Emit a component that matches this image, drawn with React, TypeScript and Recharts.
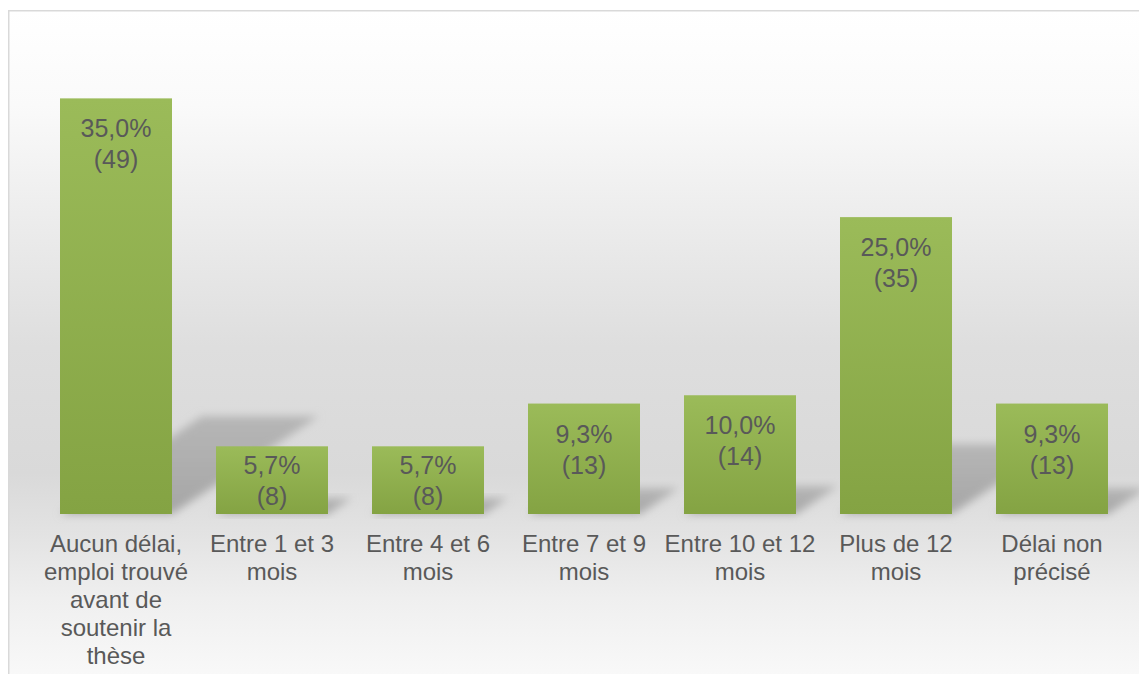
import { Bar, BarChart, LabelList, XAxis, YAxis } from "recharts";

const categories = [
  "Aucun délai,\nemploi trouvé\navant de\nsoutenir la\nthèse",
  "Entre 1 et 3\nmois",
  "Entre 4 et 6\nmois",
  "Entre 7 et 9\nmois",
  "Entre 10 et 12\nmois",
  "Plus de 12\nmois",
  "Délai non\nprécisé",
];
const percents = [35.0, 5.7, 5.7, 9.3, 10.0, 25.0, 9.3];
const counts = [49, 8, 8, 13, 14, 35, 13];

const data = categories.map((name, i) => ({
  name,
  pct: percents[i],
  count: counts[i],
}));

const FONT = "'Liberation Sans', Arial, sans-serif";
const TEXT = "#595959";

const CategoryTick = (props: any) => {
  const { x, y, payload } = props;
  const lines = String(payload.value).split("\n");
  return (
    <g>
      {lines.map((line: string, i: number) => (
        <text
          key={i}
          x={x}
          y={y + 38 + i * 28}
          textAnchor="middle"
          fill={TEXT}
          fontSize={24}
          fontFamily={FONT}
        >
          {line}
        </text>
      ))}
    </g>
  );
};

// bar with its blurred floor shadow
const ShadowBar = (props: any) => {
  const { x, y, width, height } = props;
  const bottom = y + height;
  const h = height * 0.235;
  const pts = [
    [x, bottom],
    [x + width, bottom],
    [x + width + h * 1.5, bottom - h],
    [x + h * 1.45, bottom - h],
  ]
    .map((p) => p.join(","))
    .join(" ");
  return (
    <g>
      <polygon points={pts} fill="url(#shadowGrad)" filter="url(#shadowBlur)" />
      <rect x={x} y={y} width={width} height={height} fill="url(#barGrad)" />
    </g>
  );
};

const BarLabel = (props: any) => {
  const { x, y, width, height, index, value } = props;
  const cx = x + width / 2;
  const off = Math.min(39, (height - 55) / 2 + 21);
  const count = data[index]?.count;
  return (
    <g>
      <text x={cx} y={y + off} textAnchor="middle" fill={TEXT} fontSize={25} fontFamily={FONT}>
        {Number(value).toFixed(1).replace(".", ",") + "%"}
      </text>
      <text x={cx} y={y + off + 31} textAnchor="middle" fill={TEXT} fontSize={25} fontFamily={FONT}>
        {"(" + count + ")"}
      </text>
    </g>
  );
};

export default function App() {
  return (
    <div style={{ position: "relative", width: 1139, height: 666 }}>
      <svg
        width={1139}
        height={666}
        style={{ position: "absolute", left: 0, top: 0 }}
      >
        <defs>
          <linearGradient id="bgGrad" x1="0" y1="0" x2="0" y2="1">
            <stop offset="0" stopColor="#ffffff" />
            <stop offset="0.135" stopColor="#fafafa" />
            <stop offset="0.29" stopColor="#ededed" />
            <stop offset="0.48" stopColor="#dedede" />
            <stop offset="0.66" stopColor="#d9d9d9" />
            <stop offset="0.75" stopColor="#e3e3e3" />
            <stop offset="0.84" stopColor="#efefef" />
            <stop offset="1" stopColor="#fdfdfd" />
          </linearGradient>
          <linearGradient id="barGrad" x1="0" y1="0" x2="0" y2="1">
            <stop offset="0" stopColor="#9bbb59" />
            <stop offset="1" stopColor="#84a343" />
          </linearGradient>
          <linearGradient id="shadowGrad" x1="0" y1="1" x2="0" y2="0">
            <stop offset="0" stopColor="#a6a6a6" />
            <stop offset="1" stopColor="#b6b6b6" />
          </linearGradient>
          <filter id="shadowBlur" x="-30%" y="-30%" width="160%" height="160%">
            <feGaussianBlur stdDeviation="4.5" />
          </filter>
        </defs>
        <rect
          x={0.75}
          y={2.75}
          width={1200}
          height={700}
          fill="url(#bgGrad)"
          stroke="#d9d9d9"
          strokeWidth={1.5}
        />
      </svg>
      <div style={{ position: "absolute", left: 0, top: 0 }}>
        <BarChart
          width={1139}
          height={666}
          data={data}
          margin={{ top: 31, right: 17, left: 30, bottom: 10 }}
        >
          <XAxis
            dataKey="name"
            axisLine={false}
            tickLine={false}
            tickSize={0}
            tickMargin={0}
            interval={0}
            height={150}
            tick={<CategoryTick />}
          />
          <YAxis hide domain={[0, 40]} />
          <Bar
            dataKey="pct"
            barSize={112}
            shape={<ShadowBar />}
            isAnimationActive={false}
          >
            <LabelList dataKey="pct" content={<BarLabel />} />
          </Bar>
        </BarChart>
      </div>
    </div>
  );
}
